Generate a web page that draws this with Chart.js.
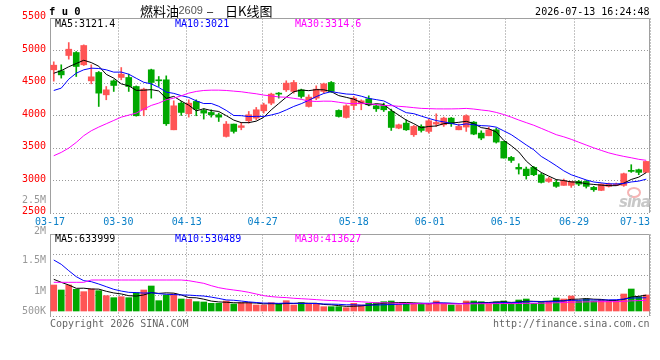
<!DOCTYPE html>
<html><head><meta charset="utf-8">
<script src="https://cdn.jsdelivr.net/npm/chart.js@4.4.1/dist/chart.umd.min.js"></script>
<style>
body{margin:0;background:#fff;}
#wrap{position:relative;width:660px;height:360px;overflow:hidden;background:#fff;}
canvas{position:absolute;left:0;}
.t{position:absolute;font-family:"DejaVu Sans Mono",monospace;font-size:10px;line-height:12px;white-space:pre;color:#000;}
.cjk{position:absolute;font-family:"Noto Sans CJK SC",sans-serif;font-size:13px;line-height:16px;white-space:pre;color:#000;}
</style></head>
<body><div id="wrap">
<canvas id="cA" width="660" height="232" style="top:0"></canvas>
<canvas id="cB" width="660" height="170" style="top:190px"></canvas>

<div class="t" style="left:49px;top:5px;font-weight:bold;font-size:10.5px;">f u 0</div>
<div class="cjk" style="left:140px;top:2.5px;">燃料油</div>
<div class="t" style="left:178.5px;top:4px;font-family:'Liberation Sans',sans-serif;font-size:11px;color:#555;">2609</div>
<div class="t" style="left:207px;top:4.5px;font-family:'Liberation Sans',sans-serif;font-size:11px;">–</div>
<div class="cjk" style="left:225px;top:2.5px;">日K线图</div>
<div class="t" style="right:10.5px;top:6.3px;">2026-07-13 16:24:48</div>

<div class="t" style="left:55px;top:18px;color:#000;">MA5:3121.4</div>
<div class="t" style="left:175px;top:18px;color:#0000ff;">MA10:3021</div>
<div class="t" style="left:295px;top:18px;color:#ff00ff;">MA30:3314.6</div>

<div class="t" style="left:55px;top:232.5px;color:#000;">MA5:633999</div>
<div class="t" style="left:175px;top:232.5px;color:#0000ff;">MA10:530489</div>
<div class="t" style="left:295px;top:232.5px;color:#ff00ff;">MA30:413627</div>

<div class="t" style="left:50px;top:317.5px;color:#666;">Copyright 2026 SINA.COM</div>
<div class="t" style="right:10.5px;top:317.5px;color:#666;">http://finance.sina.com.cn</div>

<div style="position:absolute;left:627px;top:187px;width:10px;height:7px;border:2px solid #f6b4b4;border-radius:50%;"></div>
<div style="position:absolute;left:619px;top:193px;font:italic bold 15px 'DejaVu Sans',sans-serif;color:#c8c8c8;letter-spacing:-1px;">sina</div>
</div>
<script>
// ---------------- data ----------------
const dates = ['03-17','03-18','03-19','03-20','03-23','03-24','03-25','03-26','03-27','03-30','03-31',
'04-01','04-02','04-03','04-07','04-08','04-09','04-10','04-13','04-14','04-15','04-16','04-17','04-20','04-21','04-22','04-23','04-24','04-27','04-28','04-29','04-30',
'05-06','05-07','05-08','05-11','05-12','05-13','05-14','05-15','05-18','05-19','05-20','05-21','05-22','05-25','05-26','05-27','05-28','05-29',
'06-01','06-02','06-03','06-04','06-05','06-08','06-09','06-10','06-11','06-12','06-15','06-16','06-17','06-18','06-22','06-23','06-24','06-25','06-26','06-29','06-30',
'07-01','07-02','07-03','07-06','07-07','07-08','07-09','07-10','07-13'];

const opens = [4703,4687,4923,4969,4780,4533,4662,4318,4533,4585,
4585,4446,4088,4703,4544,4549,3780,4190,4027,4216,
4078,4047,4011,3678,3868,3816,3919,3960,4072,4190,
4344,4395,4370,4395,4139,4267,4370,4508,4078,3970,
4154,4180,4257,4149,4155,4062,3806,3883,3704,3832,
3755,3868,3857,3960,3780,3822,3898,3729,3688,3780,
3601,3355,3202,3176,3202,3089,2986,2971,2925,2925,
2986,2986,2894,2848,2910,2925,2925,3156,3166,3125];

const highs = [4826,4780,5122,4984,5087,4780,4677,4446,4549,4738,
4636,4455,4421,4713,4600,4610,4226,4216,4241,4241,
4103,4088,4037,3908,3868,3893,4062,4124,4190,4344,
4354,4534,4539,4406,4318,4457,4498,4523,4088,4165,
4293,4241,4303,4165,4190,4098,3868,3934,3847,3857,
3944,4026,3975,3970,3868,4011,3908,3765,3822,3806,
3601,3371,3258,3207,3217,3114,3048,3012,3022,2986,
3002,3002,2910,2951,2961,2961,3114,3243,3176,3293];

const lows = [4528,4575,4867,4600,4769,4487,4139,4242,4370,4549,
4370,3990,3996,4267,4447,3847,3780,4001,3975,3996,
3945,3975,3908,3668,3729,3780,3883,3934,4037,4165,
4267,4370,4344,4267,4129,4242,4344,4354,3975,3960,
4088,4088,4149,4062,4062,3770,3796,3770,3678,3745,
3729,3832,3832,3832,3780,3755,3704,3627,3688,3576,
3345,3278,3099,3022,3074,2961,2971,2894,2925,2894,
2920,2884,2833,2843,2899,2920,2910,3125,3089,3125];

const closes = [4774,4625,5020,4754,5077,4595,4344,4395,4462,4636,
4446,3996,4405,4508,4534,3873,4149,4047,4190,4098,
4037,4011,3975,3868,3755,3842,4011,4088,4164,4329,
4329,4498,4508,4293,4283,4405,4487,4370,3985,4149,
4267,4226,4165,4103,4088,3816,3857,3780,3832,3770,
3919,3893,3960,3873,3832,3996,3714,3653,3780,3591,
3345,3309,3176,3074,3089,2971,3027,2910,2997,2986,
2945,2910,2858,2945,2945,2945,3104,3140,3125,3293];

const volumes = [1040000,840000,1040000,867000,773000,880000,813000,613000,533000,573000,
533000,733000,840000,1000000,413000,640000,680000,480000,467000,373000,
360000,307000,307000,400000,280000,333000,333000,240000,240000,333000,
280000,413000,240000,333000,280000,280000,173000,173000,173000,133000,
307000,240000,307000,333000,373000,400000,267000,307000,280000,280000,
307000,400000,280000,240000,240000,400000,400000,373000,280000,360000,
400000,307000,440000,480000,307000,360000,373000,520000,480000,600000,
400000,480000,400000,440000,400000,400000,680000,880000,573000,640000];

// moving-average values before enough in-window history exists
const ma5Head  = [4650,4690,4750,4800];
const ma10Head = [4385,4421,4559,4651,4703,4728,4723,4703,4667];
const ma30Head = [3381,3432,3499,3586,3689,3765,3822,3873,3924,3975,4006,4037,4098,4155,4191,
                  4242,4267,4303,4344,4370,4385,4390,4390,4385,4375,4365,4349,4334,4314];
const vma5Head  = [1267000,1147000,1040000,907000];
const vma10Head = [2040000,1867000,1613000,1373000,1213000,1173000,1080000,973000,867000];
const vma30Head = [1147000,1147000,1147000,1147000,1147000,
                   1240000,1240000,1240000,1240000,1240000,1240000,1240000,1240000,1240000,1240000,1240000,1240000,1240000,
                   1213000,1160000,1107000,1013000,933000,880000,840000,800000,747000,680000,613000];

const xTickLabels = ['03-17','03-30','04-13','04-27','05-18','06-01','06-15','06-29','07-13'];
const priceTicks = [2500,3000,3500,4000,4500,5000,5500];
const volTickLabels = ['500K','1M','1.5M','2M','2.5M'];

// ---------------- layout / style ----------------
const volTickSlots = [0.24,1.22,2.73,4.11,5.66];   // label positions on the 4-division volume frame
const VOL_MIN = -200000, VOL_MAX = 3080000;
const RED = '#ff5555', GREEN = '#00a800', GRID = '#999999', VGRID = '#c4c4c4', FRAME = '#a0a0a0', DATECOL = '#0b80c8';
const MONO = '"DejaVu Sans Mono", monospace';

function movingAvg(vals, n, head) {
  return vals.map((v, i) => {
    if (i < n - 1) return head[i];
    let s = 0;
    for (let k = i - n + 1; k <= i; k++) s += vals[k];
    return s / n;
  });
}
const candleColors = closes.map((c, i) => c >= opens[i] ? RED : GREEN);

const framePlugin = {
  id: 'frame',
  beforeDatasetsDraw(chart) {
    const a = chart.chartArea, ctx = chart.ctx;
    ctx.save();
    ctx.strokeStyle = FRAME; ctx.lineWidth = 1; ctx.setLineDash([]);
    ctx.beginPath();
    ctx.moveTo(a.left + 0.5, a.bottom);
    ctx.lineTo(a.left + 0.5, a.top + 0.5);
    ctx.lineTo(a.right - 0.5, a.top + 0.5);
    ctx.lineTo(a.right - 0.5, a.bottom);
    ctx.stroke();
    ctx.restore();
  }
};

function lineDs(data, color, yId) {
  return {type: 'line', data, borderColor: color, borderWidth: 1, pointRadius: 0, tension: 0,
          fill: false, order: 0, xAxisID: 'x', yAxisID: yId};
}

// vertical date grid (no labels, zero size)
function gridAxis(pos) {
  return {
    type: 'linear', position: pos, min: 0, max: dates.length - 1, offset: false,
    afterBuildTicks(s) { s.ticks = xTickLabels.map(l => ({value: dates.indexOf(l)})); },
    ticks: {display: false},
    grid: {display: true, drawOnChartArea: true, offset: false, color: VGRID, lineWidth: 1, drawTicks: false},
    border: {display: false, dash: [2, 1]},
    afterFit(s) { s.height = 0; s.paddingLeft = 0; s.paddingRight = 0; }
  };
}

// ---------------- price chart ----------------
new Chart(document.getElementById('cA'), {
  type: 'bar',
  data: {
    labels: dates,
    datasets: [
      lineDs(movingAvg(closes, 30, ma30Head), '#ff00ff', 'y'),
      lineDs(movingAvg(closes, 10, ma10Head), '#0000ff', 'y'),
      lineDs(movingAvg(closes, 5, ma5Head), '#000000', 'y'),
      {type: 'bar', data: dates.map((_, i) => [opens[i], closes[i]]), backgroundColor: candleColors,
       barThickness: 6, minBarLength: 1, grouped: false, borderWidth: 0, order: 1, xAxisID: 'x', yAxisID: 'y'},
      {type: 'bar', data: dates.map((_, i) => [lows[i], highs[i]]), backgroundColor: candleColors,
       barThickness: 1, minBarLength: 1, grouped: false, borderWidth: 0, order: 2, xAxisID: 'x', yAxisID: 'y'}
    ]
  },
  options: {
    responsive: false, animation: false, devicePixelRatio: 1,
    layout: {padding: {left: 0, right: 10, top: 18, bottom: 0}},
    plugins: {legend: {display: false}, tooltip: {enabled: false}},
    scales: {
      x: {type: 'category', display: false, offset: true},
      xg: gridAxis('top'),
      xl: {
        type: 'linear', position: 'bottom', min: 0, max: dates.length - 1, offset: false,
        afterBuildTicks(s) {
          const ctx = s.ctx; ctx.save(); ctx.font = '10px ' + MONO;
          const half = ctx.measureText(xTickLabels[xTickLabels.length - 1]).width / 2; ctx.restore();
          const lim = s.max - half * (s.max - s.min) / (s.width || 600);
          s.ticks = xTickLabels.map(l => ({value: Math.min(dates.indexOf(l), lim)}));
        },
        ticks: {color: DATECOL, font: {family: MONO, size: 10}, padding: 3, maxRotation: 0, minRotation: 0,
                autoSkip: false, callback: (v, i) => xTickLabels[i]},
        grid: {display: false, drawTicks: false},
        border: {display: false},
        afterFit(s) { s.height = 19; s.paddingLeft = 0; s.paddingRight = 0; }
      },
      y: {
        position: 'left', min: 2500, max: 5500,
        afterBuildTicks(s) { s.ticks = priceTicks.map(v => ({value: v})); },
        ticks: {color: '#ff0000', font: {family: MONO, size: 10}, padding: 4, labelOffset: -1.5,
                autoSkip: false, callback: v => String(v)},
        grid: {color: GRID, lineWidth: 1, drawTicks: false},
        border: {display: false, dash: [1, 2]},
        afterFit(s) { s.width = 50; s.paddingTop = 0; s.paddingBottom = 0; }
      }
    }
  },
  plugins: [framePlugin]
});

// ---------------- volume chart ----------------
new Chart(document.getElementById('cB'), {
  type: 'bar',
  data: {
    labels: dates,
    datasets: [
      lineDs(movingAvg(volumes, 30, vma30Head), '#ff00ff', 'yv'),
      lineDs(movingAvg(volumes, 10, vma10Head), '#0000ff', 'yv'),
      lineDs(movingAvg(volumes, 5, vma5Head), '#000000', 'yv'),
      {type: 'bar', data: volumes, backgroundColor: candleColors, barThickness: 6, grouped: false,
       borderWidth: 0, order: 1, xAxisID: 'x', yAxisID: 'yv'}
    ]
  },
  options: {
    responsive: false, animation: false, devicePixelRatio: 1,
    layout: {padding: {left: 0, right: 10, top: 44, bottom: 44}},
    plugins: {legend: {display: false}, tooltip: {enabled: false}},
    scales: {
      x: {type: 'category', display: false, offset: true},
      xg: gridAxis('bottom'),
      yv: {
        position: 'right', min: VOL_MIN, max: VOL_MAX,
        afterBuildTicks(s) { s.ticks = [0, 1, 2, 3, 4].map(k => ({value: s.min + k * (s.max - s.min) / 4})); },
        ticks: {display: false},
        grid: {color: GRID, lineWidth: 1, drawTicks: false},
        border: {display: false, dash: [1, 2]},
        afterFit(s) { s.width = 0; s.paddingTop = 0; s.paddingBottom = 0; }
      },
      ylab: {
        type: 'linear', position: 'left', min: 0, max: 4,
        afterBuildTicks(s) { s.ticks = volTickSlots.map(v => ({value: v})); },
        ticks: {color: '#999999', font: {family: MONO, size: 10}, padding: 4, autoSkip: false,
                callback: (v, i) => volTickLabels[i]},
        grid: {display: false, drawTicks: false},
        border: {display: false},
        afterFit(s) { s.width = 50; s.paddingTop = 0; s.paddingBottom = 0; }
      }
    }
  },
  plugins: [framePlugin]
});
</script>
</body></html>
